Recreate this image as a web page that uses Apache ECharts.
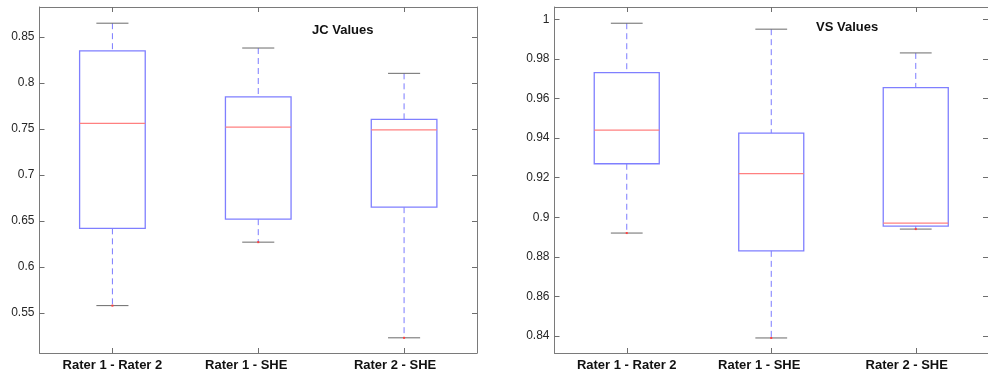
<!DOCTYPE html>
<html>
<head>
<meta charset="utf-8">
<title>JC / VS Values</title>
<script src="https://cdn.jsdelivr.net/npm/echarts@6/dist/echarts.min.js"></script>
<style>
  html, body { margin: 0; padding: 0; background: #fff; }
  #chart { width: 988px; height: 377px; }
</style>
</head>
<body>
<div id="chart"></div>
<script>
// categories shared by both panels
const categories = ['Rater 1 - Rater 2', 'Rater 1 - SHE', 'Rater 2 - SHE']

// box values: [lower whisker, Q1, median, Q3, upper whisker]
const jcBoxes = [
  [0.558, 0.642, 0.756, 0.835, 0.865],
  [0.627, 0.652, 0.752, 0.785, 0.838],
  [0.523, 0.665, 0.749, 0.7605, 0.8105]
]
const vsBoxes = [
  [0.892, 0.927, 0.944, 0.973, 0.998],
  [0.839, 0.883, 0.922, 0.9425, 0.995],
  [0.894, 0.8955, 0.897, 0.9655, 0.983]
]

// axis ranges and ticks
const jcRange = [0.5065, 0.8826]
const vsRange = [0.8314, 1.0062]
const jcTicks = [0.55, 0.6, 0.65, 0.7, 0.75, 0.8, 0.85]
const vsTicks = [0.84, 0.86, 0.88, 0.9, 0.92, 0.94, 0.96, 0.98, 1]

const FONT = '"Liberation Sans", Arial, Helvetica, sans-serif'
const FRAME = '#7a7a7a'
// matlab puts the longer labels a bit left of their tick
const labelPad = [[0, 0, 0, 0], [0, 24, 0, 0], [0, 18, 0, 0]]

function catData() {
  return categories.map((c, i) => ({ value: c, textStyle: { padding: labelPad[i] } }))
}

const frameLine = { show: true, onZero: false, lineStyle: { color: FRAME, width: 1 } }
const tickStyle = { color: '#6e6e6e', width: 1 }

function bottomAxis(grid) {
  return {
    type: 'category',
    gridIndex: grid,
    data: catData(),
    boundaryGap: true,
    axisLine: frameLine,
    axisTick: { show: true, inside: true, alignWithLabel: true, length: 5, lineStyle: tickStyle },
    axisLabel: { margin: 6, fontFamily: FONT, fontSize: 13, fontWeight: 'bold', color: '#111' },
    splitLine: { show: false }
  }
}
function topAxis(grid) {
  return {
    type: 'category',
    gridIndex: grid,
    position: 'top',
    data: categories,
    axisLine: frameLine,
    axisTick: { show: true, inside: true, alignWithLabel: true, length: 5, lineStyle: tickStyle },
    axisLabel: { show: false },
    splitLine: { show: false }
  }
}
function leftAxis(grid, range, ticks) {
  return {
    type: 'value',
    gridIndex: grid,
    min: range[0],
    max: range[1],
    axisLine: frameLine,
    axisTick: { show: true, inside: true, length: 5, customValues: ticks, lineStyle: tickStyle },
    axisLabel: { margin: 5, customValues: ticks, fontFamily: FONT, fontSize: 12, color: '#262626' },
    splitLine: { show: false }
  }
}
function rightAxis(grid, range, ticks) {
  return {
    type: 'value',
    gridIndex: grid,
    position: 'right',
    min: range[0],
    max: range[1],
    axisLine: frameLine,
    axisTick: { show: true, inside: true, length: 5, customValues: ticks, lineStyle: tickStyle },
    axisLabel: { show: false },
    splitLine: { show: false }
  }
}

function renderBox(params, api) {
  let x = api.value(0)
  let lo = api.coord([x, api.value(1)])
  let q1 = api.coord([x, api.value(2)])
  let md = api.coord([x, api.value(3)])
  let q3 = api.coord([x, api.value(4)])
  let hi = api.coord([x, api.value(5)])
  let band = api.size([1, 0])[0]
  let half = band * 0.225
  let cap = band * 0.11
  let cx = lo[0]
  let whisker = { stroke: '#7b7bff', lineWidth: 1, lineDash: [6, 4] }
  let capStyle = { stroke: '#6a6a6a', lineWidth: 1 }
  return {
    type: 'group',
    children: [
      { type: 'line', shape: { x1: cx, y1: hi[1], x2: cx, y2: q3[1] }, style: whisker },
      { type: 'line', shape: { x1: cx, y1: q1[1], x2: cx, y2: lo[1] }, style: whisker },
      { type: 'line', shape: { x1: cx - cap, y1: hi[1], x2: cx + cap, y2: hi[1] }, style: capStyle },
      { type: 'line', shape: { x1: cx - cap, y1: lo[1], x2: cx + cap, y2: lo[1] }, style: capStyle },
      {
        type: 'rect',
        shape: { x: cx - half, y: q3[1], width: half * 2, height: q1[1] - q3[1] },
        style: { fill: 'none', stroke: '#7f7fff', lineWidth: 1.3 }
      },
      { type: 'line', shape: { x1: cx - half, y1: md[1], x2: cx + half, y2: md[1] }, style: { stroke: '#ff8080', lineWidth: 1.3 } },
      // the little red dot matlab leaves at the lower whisker end
      { type: 'rect', shape: { x: cx - 1, y: lo[1] - 1, width: 2, height: 2 }, style: { fill: '#ff4040' } }
    ]
  }
}

function boxSeries(boxes, xi, yi) {
  return {
    type: 'custom',
    xAxisIndex: xi,
    yAxisIndex: yi,
    renderItem: renderBox,
    encode: { x: 0, y: [1, 2, 3, 4, 5] },
    data: boxes.map((b, i) => [i].concat(b)),
    silent: true
  }
}

const chart = echarts.init(document.getElementById('chart'))
chart.setOption({
  backgroundColor: '#fff',
  animation: false,
  title: [
    { text: 'JC Values', left: 307, top: 19, textStyle: { fontFamily: FONT, fontSize: 13, fontWeight: 'bold', color: '#111' } },
    { text: 'VS Values', left: 811, top: 16, textStyle: { fontFamily: FONT, fontSize: 13, fontWeight: 'bold', color: '#111' } }
  ],
  grid: [
    { left: 39.5, top: 7, width: 437.5, height: 346 },
    // right panel runs a couple of px past the window edge, as in the original
    { left: 554.5, top: 7, width: 436, height: 346 }
  ],
  xAxis: [bottomAxis(0), bottomAxis(1), topAxis(0), topAxis(1)],
  yAxis: [
    leftAxis(0, jcRange, jcTicks),
    leftAxis(1, vsRange, vsTicks),
    rightAxis(0, jcRange, jcTicks),
    rightAxis(1, vsRange, vsTicks)
  ],
  series: [
    boxSeries(jcBoxes, 0, 0),
    boxSeries(vsBoxes, 1, 1)
  ]
})
</script>
</body>
</html>
